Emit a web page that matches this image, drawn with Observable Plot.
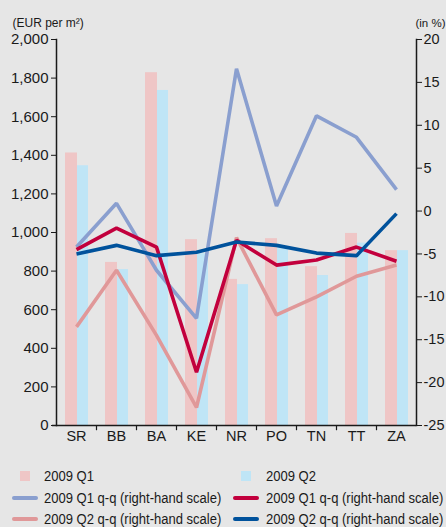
<!DOCTYPE html>
<html>
<head>
<meta charset="utf-8">
<script src="https://cdn.jsdelivr.net/npm/d3@7"></script>
<script src="https://cdn.jsdelivr.net/npm/@observablehq/plot@0.6"></script>
<style>
  html, body { margin: 0; padding: 0; background: #e6e6e6; }
  #wrap { position: relative; width: 446px; height: 527px; overflow: hidden; background: #e6e6e6;
          font-family: "Liberation Sans", Arial, sans-serif; color: #1a1a1a; }
  .lg { position: absolute; font-size: 15.5px; line-height: 18px; white-space: nowrap; transform: scaleX(0.84); transform-origin: 0 50%; }
  .sw { position: absolute; }
</style>
</head>
<body>
<div id="wrap"></div>
<script>
const categories = ["SR", "BB", "BA", "KE", "NR", "PO", "TN", "TT", "ZA"];
const q1Price = [1412, 845, 1828, 963, 757, 968, 823, 995, 906];
const q2Price = [1346, 808, 1736, 890, 730, 920, 777, 945, 906];
const q1qqLight = [-4.2, 0.9, -6.9, -12.5, 16.6, 0.6, 11.1, 8.6, 2.5];
const q1qqDark = [-4.5, -2.0, -4.2, -18.8, -3.4, -6.3, -5.7, -4.2, -5.85];
const q2qqLight = [-13.5, -6.9, -14.5, -22.9, -3.1, -12.1, -10.0, -7.6, -6.3];
const q2qqDark = [-5.0, -4.0, -5.2, -4.8, -3.6, -4.0, -4.9, -5.2, -0.3];
const leftTicks = [0, 200, 400, 600, 800, 1000, 1200, 1400, 1600, 1800, 2000];
const rightTicks = [-25, -20, -15, -10, -5, 0, 5, 10, 15, 20];

const C = {
  q1bar: "#efc6c6", q2bar: "#bfe5f6",
  lblue: "#8a9fcf", crimson: "#c2003d", pink: "#e09899", dblue: "#00529c"
};

// right-hand scale (-25..20 %) mapped onto left-hand scale (0..2000)
const rmin = -25, rmax = 20, lmax = 2000;
const toLeft = v => (v - rmin) / (rmax - rmin) * lmax;
const toRight = y => Math.round(y / lmax * (rmax - rmin) + rmin);

const bars = categories.flatMap((c, i) => [
  {cat: c, s: "Q1", v: q1Price[i]},
  {cat: c, s: "Q2", v: q2Price[i]}
]);
const mk = arr => categories.map((c, i) => ({cat: c, v: arr[i]}));
const lines = [
  {data: mk(q1qqLight), color: C.lblue},
  {data: mk(q2qqLight), color: C.pink},
  {data: mk(q1qqDark), color: C.crimson},
  {data: mk(q2qqDark), color: C.dblue}
];

const font = '"Liberation Sans", Arial, sans-serif';

const chart = Plot.plot({
  width: 446,
  height: 452,
  marginTop: 39,
  marginLeft: 56,
  marginRight: 30,
  marginBottom: 27,
  style: {background: "#e6e6e6", fontFamily: font, fontSize: "15px", color: "#1a1a1a", overflow: "visible"},
  x: {domain: categories, padding: 0},
  y: {domain: [0, 2000]},
  marks: [
    Plot.barY(bars.filter(d => d.s === "Q1"), {x: "cat", y: "v", fill: C.q1bar, insetLeft: 9, insetRight: 19}),
    Plot.barY(bars.filter(d => d.s === "Q2"), {x: "cat", y: "v", fill: C.q2bar, insetLeft: 21, insetRight: 8}),
    ...lines.map(l => Plot.line(l.data, {x: "cat", y: d => toLeft(d.v), stroke: l.color, strokeWidth: 3.6, strokeLinejoin: "miter", strokeLinecap: "butt"})),
    Plot.frame({anchor: "left", stroke: "#1a1a1a", strokeWidth: 1.5}),
    Plot.frame({anchor: "right", stroke: "#1a1a1a", strokeWidth: 1.5}),
    Plot.ruleY([0], {stroke: "#1a1a1a", strokeWidth: 1.5, insetLeft: -4}),
    Plot.ruleX(categories.slice(1), {x: d => d, dx: -20, y1: 0, y2: -27, stroke: "#1a1a1a", strokeWidth: 1.2}),
    Plot.axisY(leftTicks, {anchor: "left", tickSize: 5, tickPadding: 3, tickFormat: d3.format(","), fontSize: 15, label: null}),
    Plot.axisY(rightTicks.map(toLeft), {anchor: "right", tickSize: 5, tickPadding: 2, tickFormat: d => String(toRight(d)), fontSize: 14.5, label: null}),
    Plot.axisX({tickSize: 0, tickPadding: 5, fontSize: 14.5, label: null}),
    Plot.text(["(EUR per m²)"], {frameAnchor: "top-left", dx: -44, dy: -21, textAnchor: "start", fontSize: 12, fill: "#1a1a1a"}),
    Plot.text(["(in %)"], {frameAnchor: "top-right", dx: 29, dy: -21, textAnchor: "end", fontSize: 11.5, fill: "#1a1a1a"})
  ]
});

const wrap = document.getElementById("wrap");
wrap.appendChild(chart);

const legendItems = [
  {label: "2009 Q1", type: "sq", color: C.q1bar, col: 0, row: 0},
  {label: "2009 Q2", type: "sq", color: C.q2bar, col: 1, row: 0},
  {label: "2009 Q1 q-q (right-hand scale)", type: "ln", color: C.lblue, col: 0, row: 1},
  {label: "2009 Q1 q-q (right-hand scale)", type: "ln", color: C.crimson, col: 1, row: 1},
  {label: "2009 Q2 q-q (right-hand scale)", type: "ln", color: C.pink, col: 0, row: 2},
  {label: "2009 Q2 q-q (right-hand scale)", type: "ln", color: C.dblue, col: 1, row: 2}
];
const rowY = [476, 498, 519];
const colText = [44, 266];
legendItems.forEach(it => {
  const cy = rowY[it.row];
  const sw = document.createElement("div");
  sw.className = "sw";
  if (it.type === "sq") {
    Object.assign(sw.style, {left: (it.col ? 241 : 20) + "px", top: (cy - 5) + "px", width: "10px", height: "10px", background: it.color});
  } else {
    Object.assign(sw.style, {left: (it.col ? 233 : 12) + "px", top: (cy - 2) + "px", width: "26px", height: "4px", borderRadius: "2px", background: it.color});
  }
  wrap.appendChild(sw);
  const t = document.createElement("div");
  t.className = "lg";
  t.textContent = it.label;
  Object.assign(t.style, {left: colText[it.col] + "px", top: (cy - 9) + "px"});
  wrap.appendChild(t);
});
</script>
</body>
</html>
